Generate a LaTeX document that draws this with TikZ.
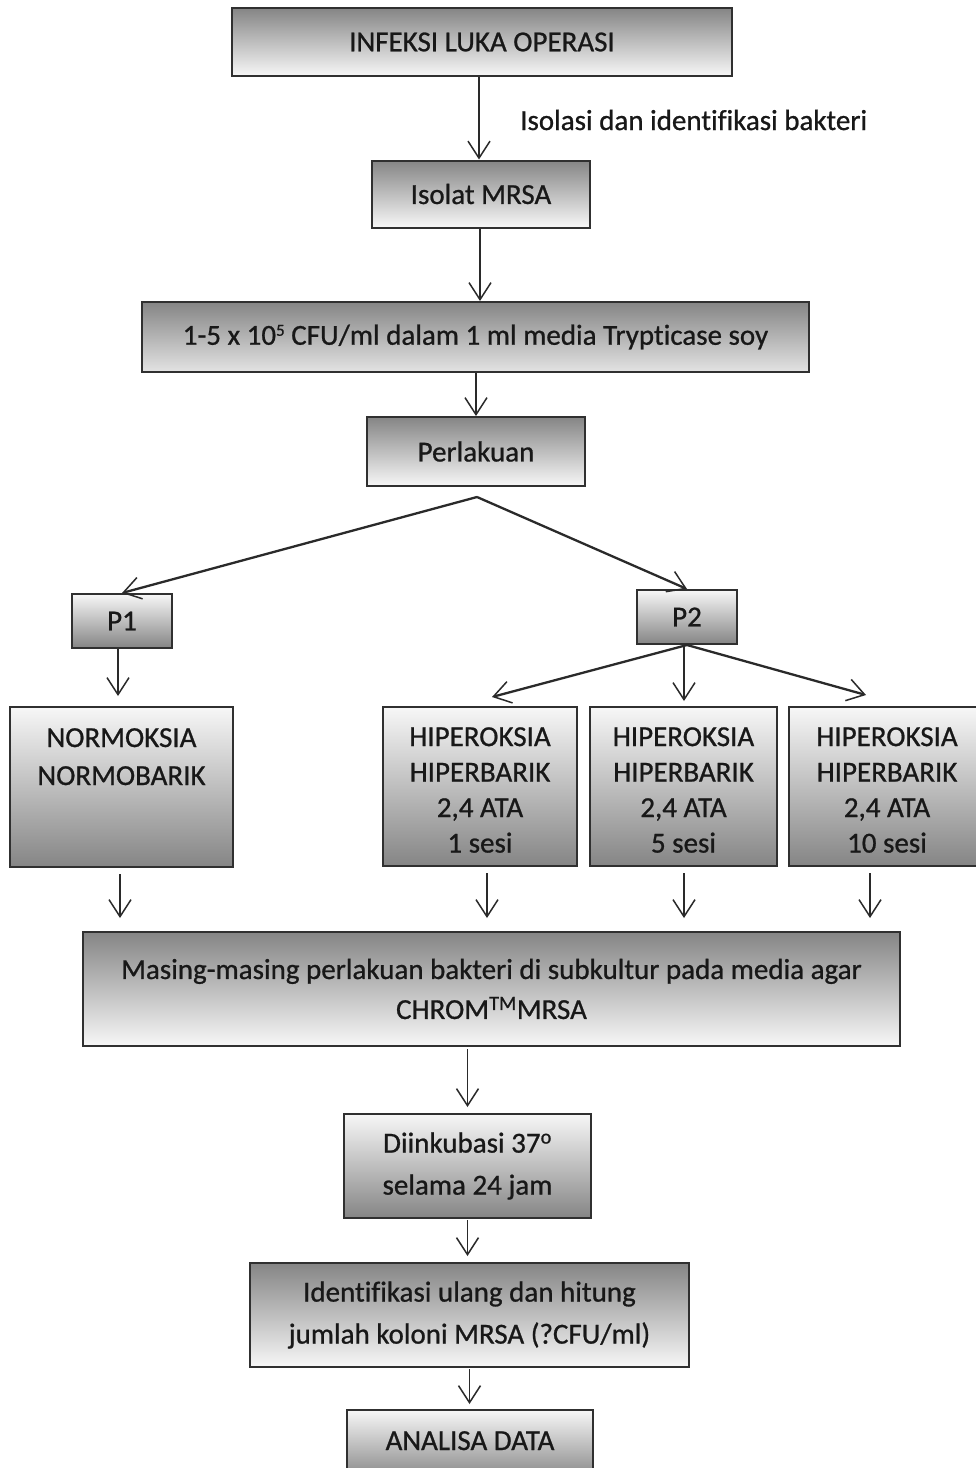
\documentclass[tikz,border=0pt]{standalone}
\usepackage{fontspec}
\setmainfont{Carlito}[Ligatures=NoCommon,FakeBold=0.8]
\usetikzlibrary{arrows.meta}
\definecolor{bordc}{HTML}{303030}
\definecolor{txtc}{HTML}{181818}
\definecolor{shdark}{HTML}{858585}
\definecolor{shlight}{HTML}{F7F7F7}
\definecolor{arrc}{HTML}{2A2A2A}
\begin{document}
\begin{tikzpicture}[x=1pt,y=-1pt,
  box/.style={draw=bordc, line width=2pt, inner sep=0pt, align=center, text=txtc, font=\fontsize{29}{35.5}\selectfont},
  txt/.style={inner sep=0pt, align=center, text=txtc, font=\fontsize{29}{35.5}\selectfont},
  dk/.style={top color=shdark, bottom color=shlight},
  dkm/.style={top color=shdark, middle color=shlight, bottom color=shlight!92!black},
  lt/.style={top color=shlight, bottom color=shdark},
  arr/.style={draw=arrc, line width=1.5pt, -{Straight Barb[length=17pt,width=22pt,line width=1.5pt]}},
  arrb/.style={arr, line width=2.3pt},
  ]
\clip (0,0) rectangle (976,1468);
\fill[white] (0,0) rectangle (976,1468);

\node[box,dk,minimum width=500pt,minimum height=68pt] (infeksi) at (482,42) {INFEKSI LUKA OPERASI};
\node[anchor=base west, txt] (lbl) at (520,130) {Isolasi dan identifikasi bakteri};
\node[box,dk,minimum width=218pt,minimum height=67pt] (isolat) at (481,194) {Isolat MRSA};
\node[box,dkm,minimum width=667pt,minimum height=70pt] (trypt) at (475.5,337) {1-5 x 10\raisebox{9pt}{\fontsize{17}{17}\selectfont 5} CFU/ml dalam 1 ml media Trypticase soy};
\node[box,dk,minimum width=218pt,minimum height=69pt] (perlakuan) at (476,451.5) {Perlakuan};
\coordinate (split) at (477,497);
\node[box,lt,minimum width=100pt,minimum height=54pt] (p1) at (122,621) {P1};
\node[box,lt,minimum width=100pt,minimum height=54pt] (p2) at (687,617) {P2};
\coordinate (t1) at (492,697);
\coordinate (t3) at (866,695);

\node[box,lt,minimum width=223pt,minimum height=160pt] (normo) at (121.5,787) {};
\node[txt,anchor=base] (normo1) at (121.5,747) {NORMOKSIA};
\node[txt,anchor=base] (normo2) at (121.5,785) {NORMOBARIK};

\node[box,lt,minimum width=194pt,minimum height=159pt] (hip1) at (480,786.5) {};
\node[box,lt,minimum width=187pt,minimum height=159pt] (hip2) at (683.5,786.5) {};
\node[box,lt,minimum width=196pt,minimum height=159pt] (hip3) at (887,786.5) {};
\node[txt] (hip1t) at ([yshift=-3.5pt]hip1.center) {HIPEROKSIA\\HIPERBARIK\\2,4 ATA\\1 sesi};
\node[txt] (hip2t) at ([yshift=-3.5pt]hip2.center) {HIPEROKSIA\\HIPERBARIK\\2,4 ATA\\5 sesi};
\node[txt] (hip3t) at ([yshift=-3.5pt]hip3.center) {HIPEROKSIA\\HIPERBARIK\\2,4 ATA\\10 sesi};

\node[box,dk,minimum width=817pt,minimum height=114pt,font=\fontsize{29}{40}\selectfont] (masing) at (491.5,989) {Masing-masing perlakuan bakteri di subkultur pada media agar\\CHROM\textsuperscript{TM}MRSA};
\node[box,lt,minimum width=247pt,minimum height=104pt,font=\fontsize{29}{42}\selectfont] (diink) at (467.5,1166) {Diinkubasi 37\textsuperscript{o}\\selama 24 jam};
\node[box,dk,minimum width=439pt,minimum height=104pt,font=\fontsize{29}{42}\selectfont] (ident) at (469.5,1315) {Identifikasi ulang dan hitung\\jumlah koloni MRSA (?CFU/ml)};
\node[box,lt,minimum width=246pt,minimum height=70pt] (analisa) at (470,1445) {};
\node[txt,anchor=base] (analisat) at (470,1450) {ANALISA DATA};

\draw[arr] ([xshift=-3pt]infeksi.south) -- ([xshift=-3pt]infeksi.south |- isolat.north);
\draw[arr] ([xshift=-1pt]isolat.south) -- ([xshift=-1pt]isolat.south |- trypt.north);
\draw[arr] (perlakuan.north |- trypt.south) -- (perlakuan.north);
\draw[arrb] (split) -- (p1.north);
\draw[arrb] (split) -- (p2.north);
\draw[arr, shorten >=10pt] ([xshift=-4pt]p1.south) -- ([xshift=-4pt]p1.south |- normo.north);
\draw[arrb] (p2.south) -- (t1);
\draw[arr, shorten >=5pt] ([xshift=-3pt]p2.south) -- ([xshift=-3pt]p2.south |- hip2.north);
\draw[arrb] (p2.south) -- (t3);
\draw[arr, shorten <=6pt, shorten >=13pt] ([xshift=-1.5pt]normo.south) -- ([xshift=-1.5pt]normo.south |- masing.north);
\draw[arr, shorten <=6pt, shorten >=13pt] ([xshift=7pt]hip1.south) -- ([xshift=7pt]hip1.south |- masing.north);
\draw[arr, shorten <=6pt, shorten >=13pt] ([xshift=0.5pt]hip2.south) -- ([xshift=0.5pt]hip2.south |- masing.north);
\draw[arr, shorten <=6pt, shorten >=13pt] ([xshift=-17pt]hip3.south) -- ([xshift=-17pt]hip3.south |- masing.north);
\draw[arr, shorten <=2pt, shorten >=6pt] (diink.north |- masing.south) -- (diink.north);
\draw[arr, shorten <=1pt, shorten >=6pt] (diink.south) -- (diink.south |- ident.north);
\draw[arr, shorten <=1pt, shorten >=5pt] (ident.south) -- (ident.south |- analisa.north);
\end{tikzpicture}
\end{document}
